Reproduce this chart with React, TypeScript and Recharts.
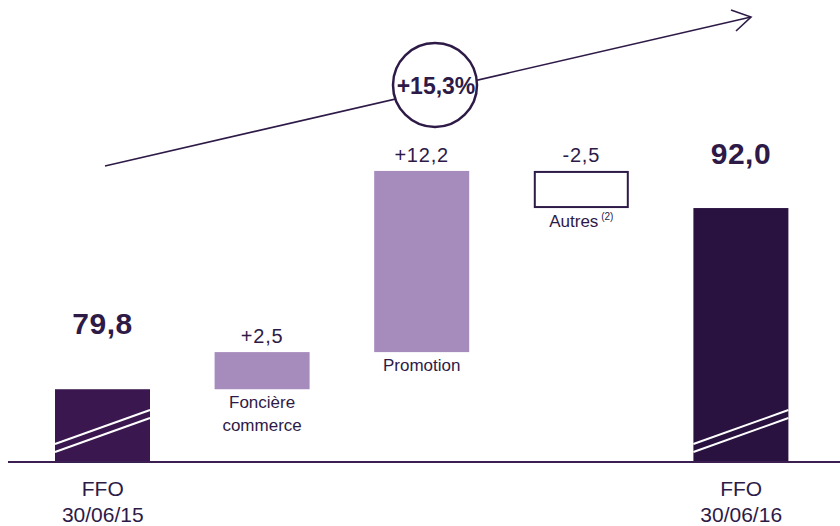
import React from 'react';
import { BarChart, Bar, XAxis, YAxis, Customized } from 'recharts';

// ---- data ----
const categories = ['FFO 30/06/15', 'Foncière commerce', 'Promotion', 'Autres', 'FFO 30/06/16'];
const kinds = ['total', 'delta', 'delta', 'delta', 'total'];
const values = [79.8, 2.5, 12.2, -2.5, 92.0];
const valueTexts = ['79,8', '+2,5', '+12,2', '-2,5', '92,0'];
const tickLines = [['FFO', '30/06/15'], [], [], [], ['FFO', '30/06/16']];
const barNames = [[], ['Foncière', 'commerce'], ['Promotion'], ['Autres'], []];
const barNotes = ['', '', '', '(2)', ''];
const growthLabel = '+15,3%';
const yDomain = [74.9, 105];

// ---- styles ----
const FONT = "'Liberation Sans', Arial, Helvetica, sans-serif";
const TEXT = '#2e1a47';
const totalColors = ['#3a174e', '#2a1240'];
const deltaColor = '#a68bbd';
const totalLabelGap = [55, 44];

let run = 0;
const data = categories.map((name, i) => {
  let low: number;
  let high: number;
  if (kinds[i] === 'total') {
    low = yDomain[0];
    high = values[i];
    run = values[i];
  } else {
    const next = run + values[i];
    low = Math.min(run, next);
    high = Math.max(run, next);
    run = next;
  }
  return { name, range: [low, high] };
});

const WaterfallShape = (props: any) => {
  const { x, y, width, height, index } = props;
  const kind = kinds[index];
  const bottom = y + height;
  const cx = x + width / 2;
  if (kind === 'total') {
    const ti = index === 0 ? 0 : 1;
    return (
      <g>
        <rect x={x} y={y} width={width} height={height} fill={totalColors[ti]} />
        <line x1={x} y1={bottom - 18} x2={x + width} y2={bottom - 52} stroke="#fff" strokeWidth={2} />
        <line x1={x} y1={bottom - 10} x2={x + width} y2={bottom - 44} stroke="#fff" strokeWidth={2} />
        <text x={cx} y={y - totalLabelGap[ti]} textAnchor="middle" fontFamily={FONT} fontWeight="bold" fontSize={30} letterSpacing={0.5} fill={TEXT}>
          {valueTexts[index]}
        </text>
      </g>
    );
  }
  const neg = values[index] < 0;
  return (
    <g>
      {neg ? (
        <rect x={x + 1} y={y + 1} width={width - 2} height={height - 2} fill="#fff" stroke={TEXT} strokeWidth={2} />
      ) : (
        <rect x={x} y={y} width={width} height={height} fill={deltaColor} />
      )}
      <text x={cx} y={y - 9} textAnchor="middle" fontFamily={FONT} fontSize={20} letterSpacing={0.8} fill={TEXT}>
        {valueTexts[index]}
      </text>
      {barNames[index].map((ln, k) => (
        <text key={k} x={cx} y={bottom + 19 + k * 23} textAnchor="middle" fontFamily={FONT} fontSize={17} fill={TEXT}>
          {ln}
          {barNotes[index] && k === barNames[index].length - 1 ? (
            <tspan fontSize={10} dy={-7}>{' ' + barNotes[index]}</tspan>
          ) : null}
        </text>
      ))}
    </g>
  );
};

const FfoTick = (props: any) => {
  const { x, y, index } = props;
  const lines = tickLines[index] || [];
  return (
    <g>
      {lines.map((ln, k) => (
        <text key={k} x={x} y={y + 34 + k * 26} textAnchor="middle" fontFamily={FONT} fontSize={21} fill={TEXT}>
          {ln}
        </text>
      ))}
    </g>
  );
};

const GrowthArrow = () => (
  <g>
    <line x1={105} y1={166} x2={751} y2={17} stroke={TEXT} strokeWidth={1.6} />
    <polyline points="731,10 751,17 736,31" fill="none" stroke={TEXT} strokeWidth={1.6} />
    <circle cx={435} cy={85} r={42} fill="#fff" stroke={TEXT} strokeWidth={2.5} />
    <text x={436} y={94} textAnchor="middle" fontFamily={FONT} fontWeight="bold" fontSize={23} fill={TEXT}>
      {growthLabel}
    </text>
  </g>
);

export default function App() {
  return (
    <div style={{ position: 'absolute', left: 0, top: 0, width: 840, height: 526, background: '#fff' }}>
      <BarChart width={840} height={526} data={data} margin={{ top: 15, right: 0, bottom: 0, left: 8 }}>
        <YAxis hide domain={yDomain} allowDataOverflow />
        <XAxis
          dataKey="name"
          height={64}
          padding={{ left: 15, right: 19 }}
          axisLine={{ stroke: '#3b1f52', strokeWidth: 2 }}
          tickLine={false}
          tickSize={0}
          tickMargin={0}
          interval={0}
          tick={<FfoTick />}
        />
        <Bar dataKey="range" barSize={95} isAnimationActive={false} shape={<WaterfallShape />} />
        <Customized component={GrowthArrow} />
      </BarChart>
    </div>
  );
}
